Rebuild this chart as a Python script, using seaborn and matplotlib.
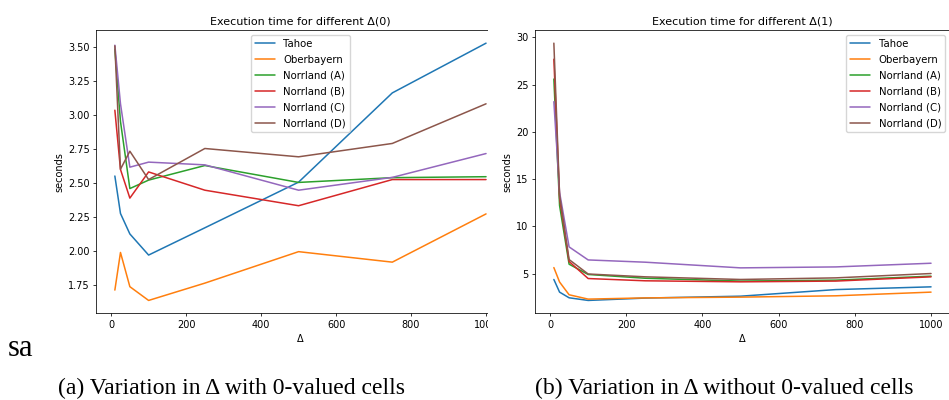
import matplotlib
matplotlib.use("Agg")
import matplotlib.pyplot as plt
from matplotlib.patches import Rectangle
import numpy as np
import pandas as pd
import seaborn as sns

# Delta values tested
deltas = [10, 25, 50, 100, 250, 500, 750, 1000]
regions = ["Tahoe", "Oberbayern", "Norrland (A)", "Norrland (B)", "Norrland (C)", "Norrland (D)"]

# Execution time (seconds), Delta(0): with 0-valued cells
tahoe_0 = [2.55, 2.275, 2.125, 1.97, 2.17, 2.505, 3.16, 3.525]
oberbayern_0 = [1.713, 1.989, 1.738, 1.637, 1.764, 1.995, 1.918, 2.272]
norrland_a_0 = [3.48, 2.95, 2.458, 2.52, 2.627, 2.503, 2.538, 2.545]
norrland_b_0 = [3.033, 2.598, 2.388, 2.58, 2.446, 2.332, 2.524, 2.524]
norrland_c_0 = [3.51, 3.08, 2.615, 2.652, 2.632, 2.446, 2.54, 2.715]
norrland_d_0 = [3.505, 2.6, 2.732, 2.524, 2.752, 2.691, 2.789, 3.08]

# Execution time (seconds), Delta(1): without 0-valued cells
tahoe_1 = [4.37, 3.03, 2.43, 2.15, 2.4, 2.6, 3.3, 3.59]
oberbayern_1 = [5.63, 4.1, 2.75, 2.29, 2.42, 2.5, 2.64, 3.03]
norrland_a_1 = [25.6, 12.2, 5.99, 4.9, 4.5, 4.2, 4.3, 4.72]
norrland_b_1 = [27.7, 13.0, 6.27, 4.47, 4.23, 4.12, 4.2, 4.65]
norrland_c_1 = [23.2, 13.6, 7.82, 6.44, 6.2, 5.6, 5.7, 6.09]
norrland_d_1 = [29.4, 13.3, 6.48, 4.95, 4.65, 4.37, 4.54, 5.0]

series_0 = [tahoe_0, oberbayern_0, norrland_a_0, norrland_b_0, norrland_c_0, norrland_d_0]
series_1 = [tahoe_1, oberbayern_1, norrland_a_1, norrland_b_1, norrland_c_1, norrland_d_1]


def to_frame(series):
    rows = []
    for name, vals in zip(regions, series):
        for d, v in zip(deltas, vals):
            rows.append({"delta": d, "seconds": v, "region": name})
    return pd.DataFrame(rows)


sns.set_style("ticks")
plt.rcParams["font.family"] = ["DejaVu Sans"]
fs = 7.0
plt.rcParams.update({
    "xtick.labelsize": fs,
    "ytick.labelsize": fs,
    "axes.labelsize": fs,
    "axes.titlesize": 8.0,
    "legend.fontsize": 7.3,
    "axes.linewidth": 0.55,
    "xtick.major.width": 0.55,
    "ytick.major.width": 0.55,
    "xtick.major.size": 2.4,
    "ytick.major.size": 2.4,
    "xtick.major.pad": 2.4,
    "ytick.major.pad": 2.4,
    "axes.labelpad": 2.7,
    "axes.titlepad": 4.1,
    "axes.edgecolor": "black",
    "xtick.color": "black",
    "ytick.color": "black",
    "text.color": "black",
    "axes.labelcolor": "black",
})

W, H = 949, 400
fig = plt.figure(figsize=(W / 100, H / 100), dpi=100)
palette = sns.color_palette("tab10", 6)


def px_axes(left, right, top, bottom):
    return [left / W, 1 - bottom / H, (right - left) / W, (bottom - top) / H]


ax0 = fig.add_axes(px_axes(96.3, 504.6, 30.3, 313.3))
ax1 = fig.add_axes(px_axes(535.0, 949.9, 30.3, 313.3))

panels = [
    (ax0, series_0, "Execution time for different Δ(0)", "upper center"),
    (ax1, series_1, "Execution time for different Δ(1)", "upper right"),
]
for ax, series, title, loc in panels:
    sns.lineplot(data=to_frame(series), x="delta", y="seconds", hue="region",
                 hue_order=regions, palette=palette, estimator=None, sort=False,
                 linewidth=1.1, ax=ax)
    ax.set_title(title)
    ax.set_xlabel("Δ")
    ax.set_ylabel("seconds")
    ax.set_xticks([0, 200, 400, 600, 800, 1000])
    sns.move_legend(ax, loc, title=None, frameon=True, fontsize=7.3,
                    handlelength=2.0, borderpad=0.4, labelspacing=0.58,
                    borderaxespad=0.45, framealpha=0.8, edgecolor="0.8",
                    fancybox=True)
    for line in ax.get_legend().get_lines():
        line.set_linewidth(1.1)

ax0.set_yticks([1.75, 2.00, 2.25, 2.50, 2.75, 3.00, 3.25, 3.50])
ax0.yaxis.set_major_formatter(matplotlib.ticker.FormatStrFormatter("%.2f"))
ax1.set_yticks([5, 10, 15, 20, 25, 30])

# the left panel is trimmed at its right edge, before the second panel
ax0.set_zorder(0)
fig.add_artist(Rectangle((488 / W, 0), (535 - 488) / W, 1, transform=fig.transFigure,
                         facecolor="white", edgecolor="none", zorder=1))
ax1.set_zorder(2)

serif = ["Liberation Serif", "DejaVu Serif"]
fig.text(8 / W, 1 - 356 / H, "sa", family=serif, fontsize=22, ha="left", va="baseline")
fig.text(231.5 / W, 1 - 394 / H, "(a) Variation in Δ with 0-valued cells",
         family=serif, fontsize=17, ha="center", va="baseline")
fig.text(724 / W, 1 - 394 / H, "(b) Variation in Δ without 0-valued cells",
         family=serif, fontsize=17, ha="center", va="baseline")

fig.savefig("out.png", dpi=100, facecolor="white")
